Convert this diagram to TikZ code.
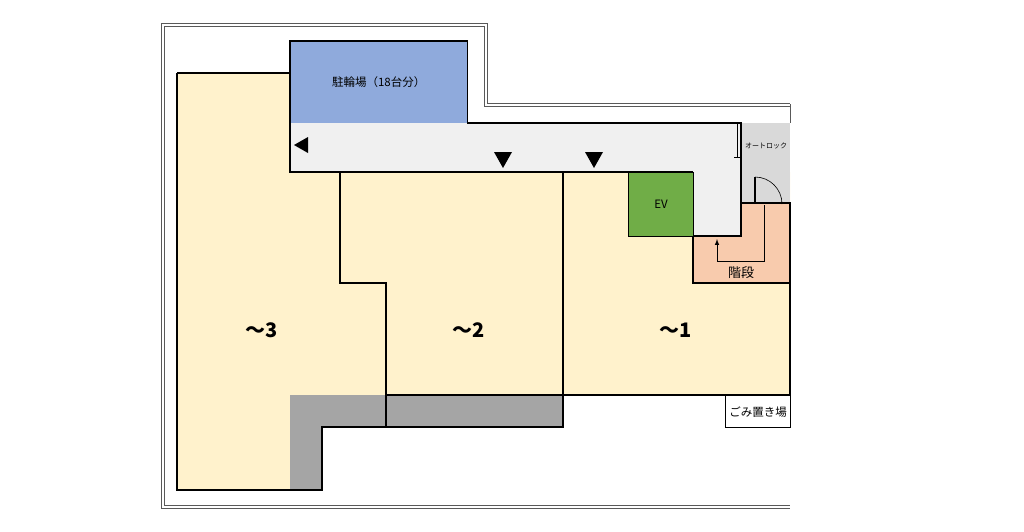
\documentclass[tikz,border=0pt]{standalone}
\usepackage{fontspec}
\setmainfont{Noto Sans CJK JP}
\definecolor{unit}{HTML}{FFF2CC}
\definecolor{bikec}{HTML}{8FAADC}
\definecolor{evc}{HTML}{70AD47}
\definecolor{stairc}{HTML}{F8CBAD}
\definecolor{corr}{HTML}{F0F0F0}
\definecolor{lockc}{HTML}{D9D9D9}
\definecolor{greyc}{HTML}{A5A5A5}
\begin{document}
\begin{tikzpicture}[x=1pt,y=-1pt,
  wall/.style={line width=1.3pt,draw=black},
  lbl/.style={font=\fontsize{11.5}{12}\selectfont},
  big/.style={font=\fontsize{20}{22}\selectfont\bfseries},
  tri/.style={fill=black,draw=none}]
\useasboundingbox (0,0) rectangle (1024,531);
% outer double wall
\draw[gray!70!black,double=white,double distance=2pt,line width=0.8pt]
  (790,105) -- (486,105) -- (486,25) -- (163,25) -- (163,507) -- (790,507);
\draw[gray!70!black,line width=0.8pt] (790,104) -- (790,123);
% units
\fill[unit] (177,73) -- (290,73) -- (290,172) -- (340,172) -- (340,283) -- (386,283) -- (386,427) -- (322,427) -- (322,490) -- (177,490) -- cycle;
\fill[unit] (340,172) -- (790,172) -- (790,395) -- (386,395) -- (386,283) -- (340,283) -- cycle;
\fill[greyc] (290,395) -- (563,395) -- (563,427) -- (322,427) -- (322,490) -- (290,490) -- cycle;
% corridor
\fill[corr] (290,123) -- (741,123) -- (741,236) -- (693,236) -- (693,172) -- (290,172) -- cycle;
\fill[lockc] (741,123) rectangle (790,203);
\fill[stairc] (741,203) -- (790,203) -- (790,283) -- (693,283) -- (693,236) -- (741,236) -- cycle;
% rooms
\node[fill=bikec,minimum width=177pt,minimum height=82pt,anchor=north west,inner sep=0pt,lbl] (bike) at (290,41) {駐輪場（18台分）};
\draw[wall] (bike.south west) -- (bike.north west) -- (bike.north east) -- (bike.south east);
\node[draw=black,line width=1.3pt,fill=evc,minimum width=65pt,minimum height=64pt,anchor=north west,inner sep=0pt,lbl] (ev) at (628,172) {EV};
\node[draw=black,line width=1.3pt,fill=white,minimum width=65pt,minimum height=32pt,anchor=north west,inner sep=0pt,lbl] (gomi) at (725,395) {ごみ置き場};
% walls
\draw[wall] (177,73) -- (290,73);
\draw[wall] (177,73) -- (177,490) -- (322,490) -- (322,427) -- (563,427) -- (563,395) -- (790,395) -- (790,203) -- (741,203);
\draw[wall] (290,123) -- (290,172) -- (693,172);
\draw[wall] (467,123) -- (741,123) -- (741,236) -- (693,236);
\draw[wall] (340,172) -- (340,283) -- (386,283) -- (386,427);
\draw[wall] (563,172) -- (563,395);
\draw[wall] (386,395) -- (563,395);
\draw[wall] (693,236) -- (693,283) -- (790,283);
% autolock
\draw[line width=0.6pt] (737,124) -- (737,157) (740,124) -- (740,157) (734,157) -- (741,157);
\node[font=\fontsize{7}{8}\selectfont] (al) at (766,146) {オートロック};
% door
\draw[line width=1.3pt] (755,203) -- (755,177);
\draw[line width=0.6pt] (755,177) arc[start angle=90,end angle=0,radius=27pt];
% stair arrow
\draw[line width=1pt,-latex] (764,205) -- (764,261) -- (717,261) -- (717,239);
\node[font=\fontsize{13}{14}\selectfont] (kai) at (741,273) {階段};
% triangles
\fill[tri] (294,145) -- (308,137) -- (308,153) -- cycle;
\fill[tri] (494,152) -- (512,152) -- (503,168) -- cycle;
\fill[tri] (585,152) -- (603,152) -- (594,168) -- cycle;
% labels
\node[big] (u3) at (262,330) {～3};
\node[big] (u2) at (469,330) {～2};
\node[big] (u1) at (676,330) {～1};
\end{tikzpicture}
\end{document}
